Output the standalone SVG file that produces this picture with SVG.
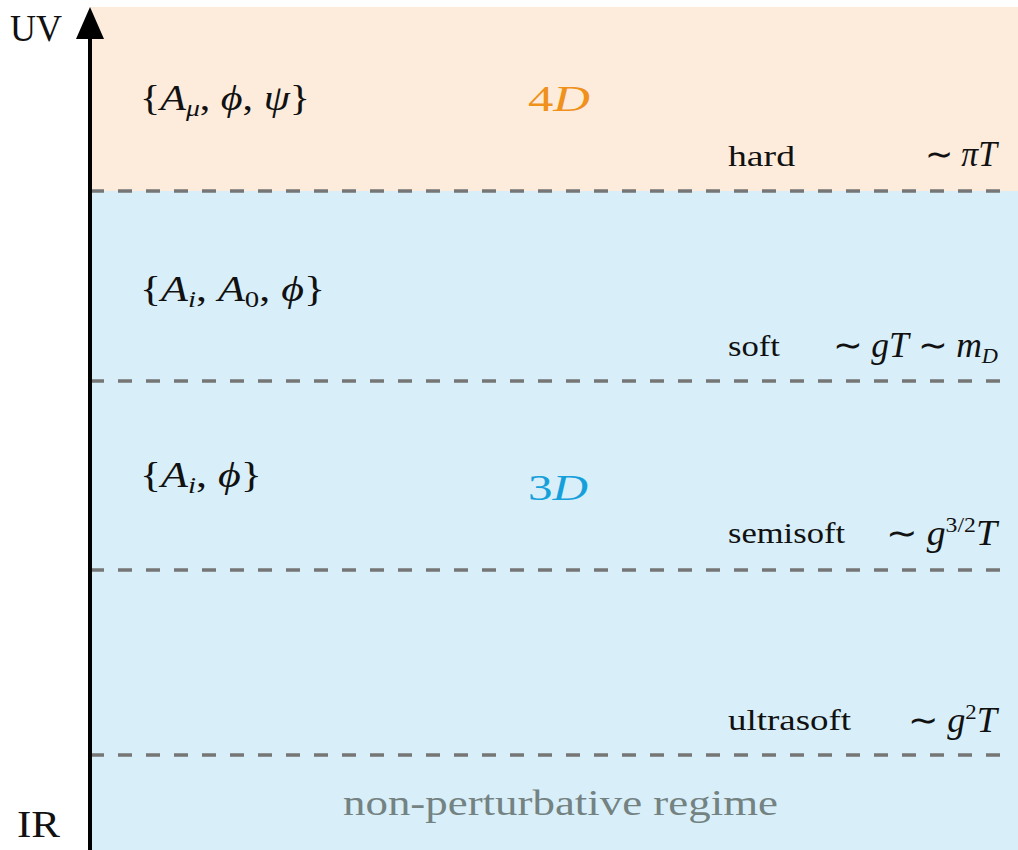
<svg xmlns="http://www.w3.org/2000/svg" width="1018" height="850" viewBox="0 0 1018 850">
<defs>
<style>
.t{font-family:"Liberation Serif","Times New Roman",serif;fill:#111}
.m{font-family:"Liberation Serif","Times New Roman",serif;fill:#111;font-size:35px}
.i{font-style:italic}
.lab{font-size:30px}
.dash{stroke:#767676;stroke-width:3.5;stroke-dasharray:14 14;fill:none}
</style>
</defs>
<rect width="1018" height="850" fill="#ffffff"/>
<g id="band4d"><rect x="90" y="7" width="928" height="184" fill="#fdecdc"/></g>
<g id="band3d"><rect x="90" y="191" width="928" height="659" fill="#d8eff9"/></g>
<g id="connectors">
<line class="dash" x1="90" y1="191" x2="1010" y2="191"/>
<line class="dash" x1="90" y1="381" x2="1010" y2="381"/>
<line class="dash" x1="90" y1="570" x2="1010" y2="570"/>
<line class="dash" x1="90" y1="755" x2="1010" y2="755"/>
<line x1="90" y1="30" x2="90" y2="850" stroke="#000" stroke-width="4"/>
<polygon points="90,7 76,39 104,39" fill="#000"/>
</g>
<g id="axis-labels">
<text class="t" x="10" y="41" font-size="38" textLength="52" lengthAdjust="spacingAndGlyphs">UV</text>
<text class="t" x="17" y="837" font-size="38" textLength="43" lengthAdjust="spacingAndGlyphs">IR</text>
</g>
<g id="fields-4d">
<text class="m" x="140" y="110" textLength="170" lengthAdjust="spacingAndGlyphs">{<tspan class="i">A</tspan><tspan class="i" font-size="23" dy="6">μ</tspan><tspan dy="-6">, </tspan><tspan class="i">ϕ</tspan>, <tspan class="i">ψ</tspan>}</text>
</g>
<g id="label-4d"><text class="m" x="528" y="111" style="fill:#f0911c" textLength="62" lengthAdjust="spacingAndGlyphs">4<tspan class="i">D</tspan></text></g>
<g id="scale-hard">
<text class="t lab" x="728" y="166" textLength="67" lengthAdjust="spacingAndGlyphs">hard</text>
<text class="m" x="925" y="166" font-size="31" textLength="72" lengthAdjust="spacingAndGlyphs">∼ <tspan class="i">πT</tspan></text>
</g>
<g id="fields-soft">
<text class="m" x="140" y="301" textLength="185" lengthAdjust="spacingAndGlyphs">{<tspan class="i">A</tspan><tspan class="i" font-size="23" dy="6">i</tspan><tspan dy="-6">, </tspan><tspan class="i">A</tspan><tspan font-size="23" dy="6">0</tspan><tspan dy="-6">, </tspan><tspan class="i">ϕ</tspan>}</text>
</g>
<g id="scale-soft">
<text class="t lab" x="728" y="356" textLength="52" lengthAdjust="spacingAndGlyphs">soft</text>
<text class="m" x="833" y="357" font-size="31" textLength="165" lengthAdjust="spacingAndGlyphs">∼ <tspan class="i">gT</tspan> ∼ <tspan class="i">m</tspan><tspan class="i" font-size="22" dy="6">D</tspan></text>
</g>
<g id="fields-semisoft">
<text class="m" x="140" y="487" textLength="122" lengthAdjust="spacingAndGlyphs">{<tspan class="i">A</tspan><tspan class="i" font-size="23" dy="6">i</tspan><tspan dy="-6">, </tspan><tspan class="i">ϕ</tspan>}</text>
</g>
<g id="label-3d"><text class="m" x="528" y="500" style="fill:#16a0db" textLength="60" lengthAdjust="spacingAndGlyphs">3<tspan class="i">D</tspan></text></g>
<g id="scale-semisoft">
<text class="t lab" x="728" y="543" textLength="117" lengthAdjust="spacingAndGlyphs">semisoft</text>
<text class="m" x="886" y="545" font-size="31" textLength="111" lengthAdjust="spacingAndGlyphs">∼ <tspan class="i">g</tspan><tspan font-size="22" dy="-13">3/2</tspan><tspan class="i" dy="13">T</tspan></text>
</g>
<g id="scale-ultrasoft">
<text class="t lab" x="728" y="730" textLength="123" lengthAdjust="spacingAndGlyphs">ultrasoft</text>
<text class="m" x="908" y="732" font-size="31" textLength="89" lengthAdjust="spacingAndGlyphs">∼ <tspan class="i">g</tspan><tspan font-size="22" dy="-13">2</tspan><tspan class="i" dy="13">T</tspan></text>
</g>
<g id="nonpert">
<text class="t" x="343" y="815" font-size="35" style="fill:#748282" textLength="435" lengthAdjust="spacingAndGlyphs">non-perturbative regime</text>
</g>
</svg>
